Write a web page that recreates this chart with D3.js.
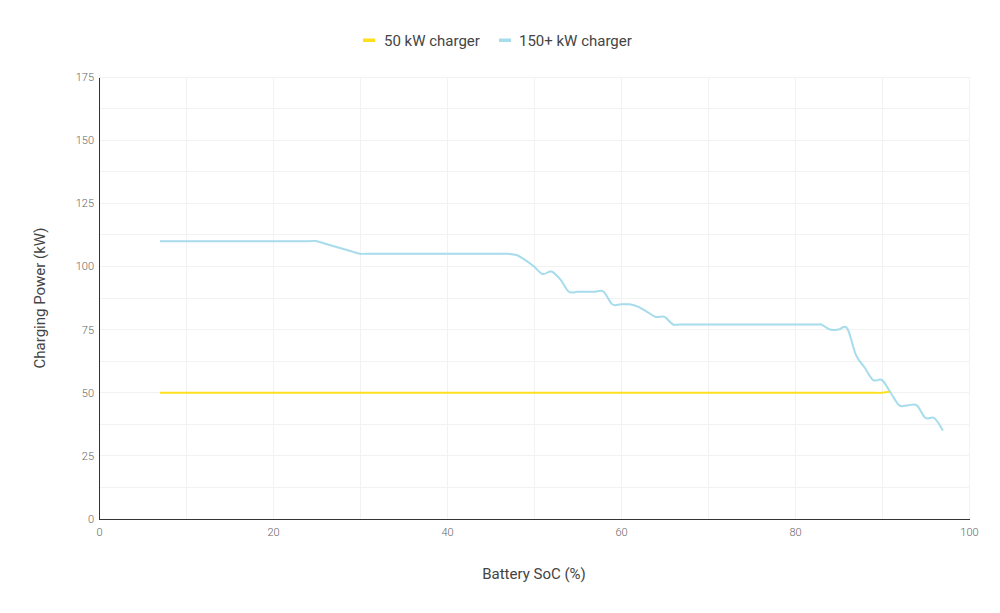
<!DOCTYPE html>
<html><head><meta charset="utf-8">
<script src="https://cdn.jsdelivr.net/npm/d3@7"></script>
<style>
body{margin:0;background:#fff;font-family:Roboto,"Noto Sans",sans-serif;}
</style></head>
<body><svg id="chart" width="1000" height="613"></svg>
<script>
const seriesNames = ["50 kW charger", "150+ kW charger"];
const seriesColors = ["#FFE01B", "#A6DCEC"];
const soc50 = [7, 20, 40, 60, 80, 89, 90, 91];
const power50 = [50, 50, 50, 50, 50, 50, 50, 50.5];
const soc150 = [7, 15, 24, 25, 26, 27, 28, 29, 30, 31, 40, 46, 47, 48, 49, 50, 51, 52, 53, 54, 55, 56, 57, 58, 59, 60, 61, 62, 63, 64, 65, 66, 67, 75, 82, 83, 84, 85, 86, 87, 88, 89, 90, 91, 92, 93, 94, 95, 96, 97];
const power150 = [110, 110, 110, 110, 109, 108, 107, 106, 105, 105, 105, 105, 105, 104.5, 102.5, 100, 97, 98, 95, 90, 90, 90, 90, 90, 85, 85, 85, 84, 82, 80, 80, 77, 77, 77, 77, 77, 75, 75, 75.5, 65, 60, 55, 55, 50, 45, 45, 45, 40, 40, 35];
const xTicks = [0, 20, 40, 60, 80, 100];
const yTicks = [0, 25, 50, 75, 100, 125, 150, 175];
const xGrid = [10, 20, 30, 40, 50, 60, 70, 80, 90, 100];
const yGrid = [12.5, 25, 37.5, 50, 62.5, 75, 87.5, 100, 112.5, 125, 137.5, 150, 162.5, 175];

const svg = d3.select("#chart");
const m = {l: 99, r: 969, t: 77, b: 519};
const x = d3.scaleLinear().domain([0, 100]).range([m.l, m.r]);
const y = d3.scaleLinear().domain([0, 175]).range([m.b, m.t]);

// grid
svg.append("g").selectAll("line").data(xGrid).join("line")
  .attr("x1", d => x(d)).attr("x2", d => x(d)).attr("y1", m.t).attr("y2", m.b)
  .attr("stroke", "#f2f2f2").attr("stroke-width", 1).attr("shape-rendering", "crispEdges");
svg.append("g").selectAll("line").data(yGrid).join("line")
  .attr("x1", m.l).attr("x2", m.r).attr("y1", d => y(d)).attr("y2", d => y(d))
  .attr("stroke", "#f2f2f2").attr("stroke-width", 1).attr("shape-rendering", "crispEdges");

// axes
const xAxis = svg.append("g").attr("transform", `translate(0,${m.b})`)
  .call(d3.axisBottom(x).tickValues(xTicks).tickSize(0).tickPadding(9));
const yAxis = svg.append("g").attr("transform", `translate(${m.l},0)`)
  .call(d3.axisLeft(y).tickValues(yTicks).tickSize(0).tickPadding(5));
[xAxis, yAxis].forEach(a => {
  a.select(".domain").attr("stroke", "#333").attr("stroke-width", 1).attr("shape-rendering", "crispEdges");
  a.selectAll("text").attr("fill", "#666").attr("font-size", "11px").attr("font-weight", 300)
    .attr("font-family", "Roboto, sans-serif");
});

// lines
const line = d3.line().x(d => x(d[0])).y(d => y(d[1])).curve(d3.curveCardinal.tension(0));
const d50 = soc50.map((s, i) => [s, power50[i]]);
const d150 = soc150.map((s, i) => [s, power150[i]]);
svg.append("path").datum(d50).attr("d", line).attr("fill", "none")
  .attr("stroke", seriesColors[0]).attr("stroke-width", 2);
svg.append("path").datum(d150).attr("d", line).attr("fill", "none")
  .attr("stroke", seriesColors[1]).attr("stroke-width", 2);

// axis titles
svg.append("text").attr("x", (m.l + m.r) / 2).attr("y", 579).attr("text-anchor", "middle")
  .attr("fill", "#444").attr("font-size", "15px").text("Battery SoC (%)");
svg.append("text").attr("transform", `translate(45,${(m.t + m.b) / 2}) rotate(-90)`)
  .attr("text-anchor", "middle").attr("fill", "#444").attr("font-size", "15px").text("Charging Power (kW)");

// legend
const lg = svg.append("g");
const items = [{x: 363, tx: 384}, {x: 499, tx: 519}];
seriesNames.forEach((n, i) => {
  lg.append("rect").attr("x", items[i].x).attr("y", 38.5).attr("width", 12).attr("height", 3.5)
    .attr("fill", seriesColors[i]);
  lg.append("text").attr("x", items[i].tx).attr("y", 45.5).attr("fill", "#444")
    .attr("font-size", "15px").text(n);
});
</script></body></html>
